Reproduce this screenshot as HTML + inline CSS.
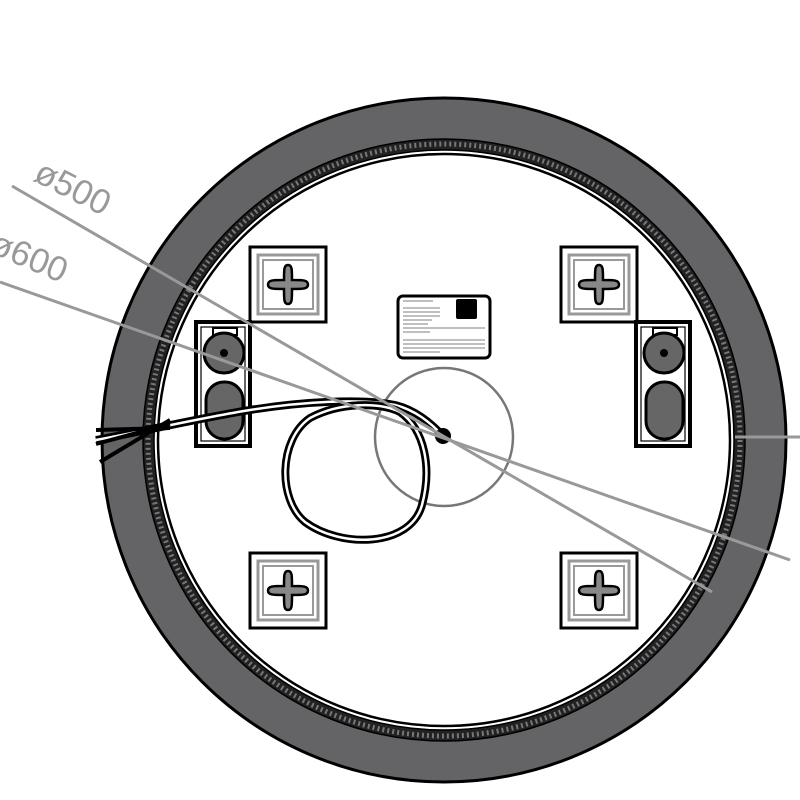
<!DOCTYPE html>
<html><head><meta charset="utf-8"><style>
html,body{margin:0;padding:0;background:#fff;}
svg{display:block;}
</style></head><body>
<svg width="800" height="800" viewBox="0 0 800 800" xmlns="http://www.w3.org/2000/svg">
<defs>
<g id="plus">
<rect x="0" y="0" width="76" height="75" fill="#fff" stroke="#000" stroke-width="3"/>
<rect x="8" y="8" width="60" height="59" fill="none" stroke="#999" stroke-width="3"/>
<rect x="13" y="13" width="50" height="49" fill="none" stroke="#999" stroke-width="2"/>
<path d="M38,18 C42,18 42,22 42,33 C53,33 58,33 58,37.5 C58,42 53,42 42,42 C42,53 42,57 38,57 C34,57 34,53 34,42 C23,42 18,42 18,37.5 C18,33 23,33 34,33 C34,22 34,18 38,18 Z" fill="#888" stroke="#000" stroke-width="2.5"/>
</g>
<g id="brk">
<rect x="0" y="0" width="54" height="124" fill="#fff" stroke="#000" stroke-width="4"/>
<rect x="5" y="5" width="44" height="114" fill="none" stroke="#000" stroke-width="1.2"/>
<rect x="17" y="6" width="24" height="7" fill="#fff" stroke="#000" stroke-width="2"/>
<circle cx="28" cy="31" r="20" fill="#666" stroke="#000" stroke-width="3"/>
<circle cx="28" cy="31" r="4" fill="#000"/>
<rect x="10" y="60" width="37" height="57" rx="18" fill="#666" stroke="#000" stroke-width="3"/>
</g>
</defs>
<circle cx="444" cy="440" r="342" fill="#646466" stroke="#000" stroke-width="3"/>
<circle cx="444" cy="440" r="301" fill="#222" stroke="#000" stroke-width="1.5"/>
<circle cx="444" cy="440" r="296" fill="none" stroke="#777" stroke-width="5" stroke-dasharray="2 3"/>
<circle cx="444" cy="440" r="290" fill="#fff" stroke="#000" stroke-width="1.5"/>
<circle cx="444" cy="440" r="286" fill="#fff" stroke="#000" stroke-width="2.5"/>
<circle cx="444" cy="440" r="282" fill="#fff" stroke="none"/>

<use href="#plus" x="250" y="247"/>
<use href="#plus" x="561" y="247"/>
<use href="#plus" x="250" y="553"/>
<use href="#plus" x="561" y="553"/>
<use href="#brk" x="196" y="322"/>
<use href="#brk" x="636" y="322"/>

<rect x="398" y="296" width="92" height="62" rx="5" fill="#fff" stroke="#000" stroke-width="3"/>
<rect x="456" y="299" width="21" height="20" rx="2" fill="#000"/>
<g stroke="#999" stroke-width="1.2">
<line x1="403" y1="301" x2="433" y2="301"/>
<line x1="403" y1="308" x2="440" y2="308"/>
<line x1="403" y1="312" x2="440" y2="312"/>
<line x1="403" y1="316" x2="440" y2="316"/>
<line x1="403" y1="320" x2="432" y2="320"/>
<line x1="403" y1="324" x2="428" y2="324"/>
<line x1="403" y1="328" x2="485" y2="328"/>
<line x1="403" y1="332" x2="430" y2="332"/>
<line x1="403" y1="340" x2="485" y2="340"/>
<line x1="403" y1="344" x2="485" y2="344"/>
<line x1="403" y1="348" x2="485" y2="348"/>
<line x1="403" y1="352" x2="440" y2="352"/>
</g>

<circle cx="444" cy="437" r="69" fill="none" stroke="#777" stroke-width="2.5"/>

<g fill="none">
<path d="M96,440 C150,430 200,418 250,410 C300,402 360,398 395,405 C415,410 430,422 443,436" stroke="#000" stroke-width="8"/>
<path d="M96,440 C150,430 200,418 250,410 C300,402 360,398 395,405 C415,410 430,422 443,436" stroke="#fff" stroke-width="2.5"/>
<path d="M400,412 C380,402 340,402 310,418 C278,440 278,500 305,522 C340,548 410,548 422,505 C432,468 425,430 400,412" stroke="#000" stroke-width="8"/>
<path d="M400,412 C380,402 340,402 310,418 C278,440 278,500 305,522 C340,548 410,548 422,505 C432,468 425,430 400,412" stroke="#fff" stroke-width="2.5"/>
<path d="M96,430 L170,428 M96,444 L170,424 M100,462 L170,420" stroke="#000" stroke-width="4"/>
</g>
<circle cx="443" cy="436" r="8" fill="#000"/>

<g stroke="#999" stroke-width="3">
<line x1="12" y1="186" x2="712" y2="592"/>
<line x1="0" y1="282" x2="790" y2="560"/>
<line x1="735" y1="437" x2="800" y2="437"/>
</g>
<text x="0" y="0" transform="translate(32,180) rotate(27)" font-family="Liberation Sans, sans-serif" font-size="35" fill="#999">ø500</text>
<text x="0" y="0" transform="translate(-12,252) rotate(23)" font-family="Liberation Sans, sans-serif" font-size="35" fill="#999">ø600</text>
</svg>
</body></html>
